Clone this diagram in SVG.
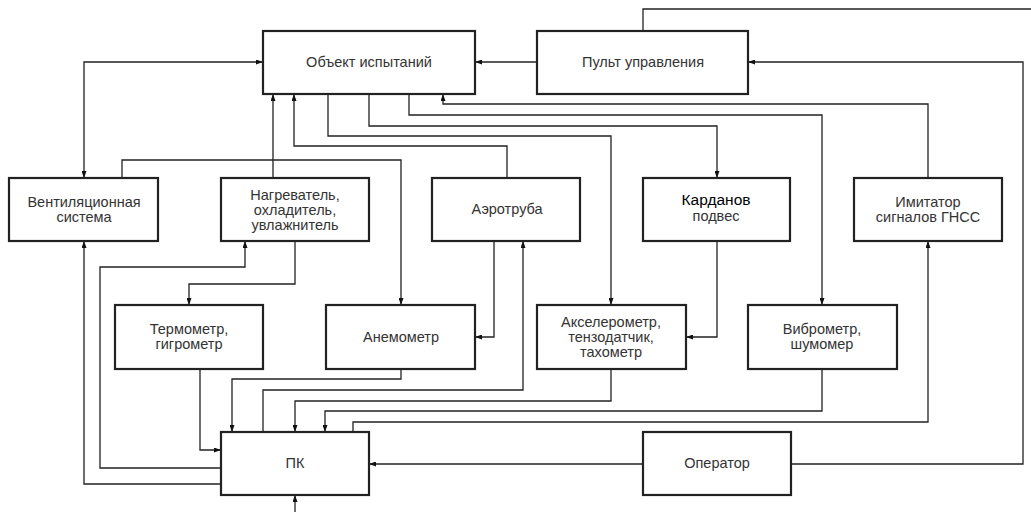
<svg xmlns="http://www.w3.org/2000/svg" width="1031" height="512" viewBox="0 0 1031 512">
<defs>
<marker id="a" viewBox="0 0 7 5" refX="7" refY="2.5" markerWidth="7" markerHeight="5" markerUnits="userSpaceOnUse" orient="auto-start-reverse"><path d="M0,0 L7,2.5 L0,5 z" fill="#111"/></marker>
<style>
.b{fill:#fff;stroke:#222;stroke-width:2.2}
.c path{fill:none;stroke:#222;stroke-width:1.3}
.c .e{marker-end:url(#a)}
.c .s{marker-start:url(#a)}
text{font-family:"Liberation Sans",Arial,sans-serif;font-size:14.5px;fill:#333;text-anchor:middle}
</style>
</defs>
<rect width="1031" height="512" fill="#fff"/>
<g class="c" id="connectors">
<path class="e" d="M537,62 H475"/>
<path d="M643,31 V9 H1031"/>
<path class="e" d="M791,464 H1023 V62 H748"/>
<path class="e s" d="M263,62 H84 V178"/>
<path class="e" d="M273,178 V94"/>
<path class="e" d="M122,178 V160 H401 V305"/>
<path class="e" d="M507,178 V146 H294 V94"/>
<path class="e" d="M328,94 V136 H611 V305"/>
<path class="e" d="M369,94 V126 H717 V178"/>
<path class="e" d="M409,94 V115 H822 V305"/>
<path class="e" d="M928,178 V104 H443 V94"/>
<path class="e" d="M295,241 V284 H189 V305"/>
<path class="e" d="M221,468 H100 V267 H245 V241"/>
<path class="e" d="M221,484 H84 V241"/>
<path class="e" d="M200,369 V450 H221"/>
<path class="e" d="M494,241 V337 H475"/>
<path class="e" d="M401,369 V379 H232 V432"/>
<path class="e" d="M263,432 V390 H523 V241"/>
<path class="e" d="M611,369 V401 H295 V432"/>
<path class="e" d="M822,369 V411 H325 V432"/>
<path class="e" d="M353,432 V422 H928 V241"/>
<path class="e" d="M643,464 H369"/>
<path class="e" d="M717,241 V337 H686"/>
<path class="e" d="M295,512 V495"/>
</g>
<g id="obj"><rect class="b" x="263" y="31" width="212" height="63"/><text x="369" y="67">Объект испытаний</text></g>
<g id="pult"><rect class="b" x="537" y="31" width="211" height="63"/><text x="643" y="67">Пульт управления</text></g>
<g id="vent"><rect class="b" x="9" y="178" width="149" height="63"/><text x="84" y="207">Вентиляционная</text><text x="84" y="222">система</text></g>
<g id="nagr"><rect class="b" x="221" y="178" width="148" height="63"/><text x="295" y="200">Нагреватель,</text><text x="295" y="215">охладитель,</text><text x="295" y="230">увлажнитель</text></g>
<g id="aero"><rect class="b" x="432" y="178" width="148" height="63"/><text x="507" y="214">Аэротруба</text></g>
<g id="kard"><rect class="b" x="643" y="178" width="147" height="63"/><text x="716" y="205" style="fill:#000;font-size:15.5px">Карданов</text><text x="716" y="221">подвес</text></g>
<g id="imit"><rect class="b" x="854" y="178" width="148" height="63"/><text x="928" y="207">Имитатор</text><text x="928" y="222">сигналов ГНСС</text></g>
<g id="term"><rect class="b" x="115" y="305" width="148" height="64"/><text x="189" y="334">Термометр,</text><text x="189" y="349">гигрометр</text></g>
<g id="anem"><rect class="b" x="326" y="305" width="149" height="64"/><text x="401" y="342">Анемометр</text></g>
<g id="accel"><rect class="b" x="537" y="305" width="149" height="64"/><text x="611" y="327">Акселерометр,</text><text x="611" y="342">тензодатчик,</text><text x="611" y="357">тахометр</text></g>
<g id="vibro"><rect class="b" x="748" y="305" width="149" height="64"/><text x="822" y="334">Виброметр,</text><text x="822" y="349">шумомер</text></g>
<g id="pk"><rect class="b" x="221" y="432" width="148" height="63"/><text x="295" y="468">ПК</text></g>
<g id="oper"><rect class="b" x="643" y="432" width="148" height="63"/><text x="717" y="468">Оператор</text></g>
</svg>
